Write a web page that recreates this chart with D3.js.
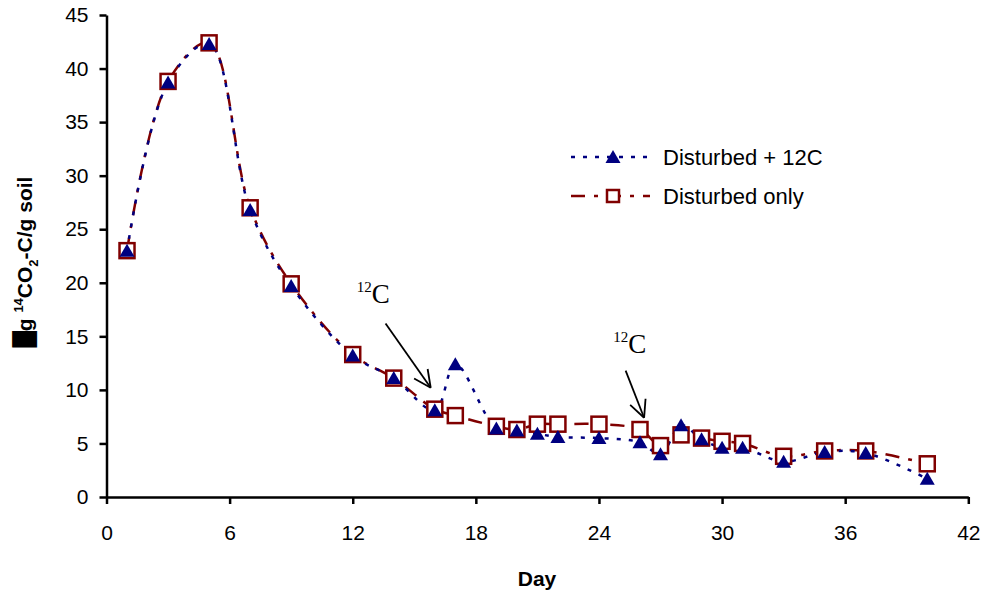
<!DOCTYPE html>
<html>
<head>
<meta charset="utf-8">
<script src="https://cdn.jsdelivr.net/npm/d3@7"></script>
<style>
  body { margin: 0; background: #fff; }
  svg { display: block; }
  text { font-family: Arial, "Liberation Sans", sans-serif; }
</style>
</head>
<body>
<div id="chart"></div>
<script>
const days = [1, 3, 5, 7, 9, 12, 14, 16, 17, 19, 20, 21, 22, 24, 26, 27, 28, 29, 30, 31, 33, 35, 37, 40];
const disturbed12C = [23.0, 38.7, 42.3, 26.8, 19.7, 13.2, 11.1, 8.1, 12.4, 6.4, 6.2, 5.9, 5.6, 5.5, 5.1, 4.0, 6.7, 5.4, 4.6, 4.6, 3.3, 4.2, 4.1, 1.7];
const disturbedOnly = [23.0, 38.8, 42.4, 27.0, 19.9, 13.3, 11.1, 8.2, 7.6, 6.6, 6.3, 6.8, 6.8, 6.8, 6.3, 4.8, 5.8, 5.5, 5.2, 5.0, 3.8, 4.3, 4.3, 3.1];
const xTicks = [0, 6, 12, 18, 24, 30, 36, 42];
const yTicks = [0, 5, 10, 15, 20, 25, 30, 35, 40, 45];
const seriesNames = ["Disturbed + 12C", "Disturbed only"];

// annotations: [text start day, text y, arrow start day, start y, tip day, tip y]
const arrows = [
  [12.2, 18.1, 13.6, 16.2, 15.8, 10.2],
  [24.7, 13.4, 25.3, 11.8, 26.2, 7.4]
];

const width = 985, height = 592;
const svg = d3.select("#chart").append("svg")
  .attr("width", width).attr("height", height);

const x = d3.scaleLinear().domain([0, 42]).range([106.5, 968.3]);
const y = d3.scaleLinear().domain([0, 45]).range([497, 15]);

const navy = "#000080", maroon = "#800000";

// axes
const yAxis = svg.append("g")
  .attr("transform", `translate(${x(0)},0)`)
  .call(d3.axisLeft(y).tickValues(yTicks).tickSize(7).tickPadding(11).tickSizeOuter(0));
const xAxis = svg.append("g")
  .attr("transform", `translate(0,${y(0)})`)
  .call(d3.axisBottom(x).tickValues(xTicks).tickSize(7).tickPadding(21).tickSizeOuter(0));
[xAxis, yAxis].forEach((g) => {
  g.select(".domain").attr("stroke", "#000").attr("stroke-width", 2.5);
  g.selectAll(".tick line").attr("stroke", "#000").attr("stroke-width", 2.5);
  g.selectAll("text").attr("font-size", 21).attr("fill", "#000")
    .style("font-family", "Arial, 'Liberation Sans', sans-serif");
});

// axis titles
svg.append("text")
  .attr("x", 537).attr("y", 586)
  .attr("text-anchor", "middle")
  .attr("font-size", 21).attr("font-weight", "bold")
  .text("Day");

const yTitle = svg.append("text")
  .attr("transform", "translate(32,262) rotate(-90)")
  .attr("text-anchor", "middle")
  .attr("font-size", 21).attr("font-weight", "bold");
yTitle.append("tspan").style("font-family", "'DejaVu Sans', sans-serif").text("\u2588");
yTitle.append("tspan").text("g ");
yTitle.append("tspan").attr("font-size", 13).attr("dy", -9).text("14");
yTitle.append("tspan").attr("dy", 9).text("CO");
yTitle.append("tspan").attr("font-size", 13).attr("dy", 6).text("2");
yTitle.append("tspan").attr("dy", -6).text("-C/g soil");

// lines (smoothed like the spreadsheet)
const rows = days.map((d, i) => ({ day: d, a: disturbed12C[i], b: disturbedOnly[i] }));
const smooth = d3.curveCatmullRom.alpha(0.5);
const lineA = d3.line().x((d) => x(d.day)).y((d) => y(d.a)).curve(smooth);
const lineB = d3.line().x((d) => x(d.day)).y((d) => y(d.b)).curve(smooth);

svg.append("path").datum(rows).attr("d", lineB)
  .attr("fill", "none").attr("stroke", maroon).attr("stroke-width", 2.5)
  .attr("stroke-dasharray", "14,9,4,9");
svg.append("path").datum(rows).attr("d", lineA)
  .attr("fill", "none").attr("stroke", navy).attr("stroke-width", 2.5)
  .attr("stroke-dasharray", "4,8");

const triPath = "M0,-7L7.5,6L-7.5,6Z";

// markers
svg.selectAll(".sq").data(rows).enter().append("rect")
  .attr("class", "sq")
  .attr("x", (d) => x(d.day) - 7.5).attr("y", (d) => y(d.b) - 7.5)
  .attr("width", 15).attr("height", 15)
  .attr("fill", "#fff").attr("stroke", maroon).attr("stroke-width", 2.5);
svg.selectAll(".tri").data(rows).enter().append("path")
  .attr("class", "tri")
  .attr("transform", (d) => `translate(${x(d.day)},${y(d.a)})`)
  .attr("d", triPath).attr("fill", navy);

// legend
const legend = svg.append("g");
const legendRows = [
  { name: seriesNames[0], color: navy, dash: "4,8", y: 157 },
  { name: seriesNames[1], color: maroon, dash: "14,9,4,9", y: 196 }
];
legendRows.forEach((r, i) => {
  legend.append("line")
    .attr("x1", 571).attr("x2", 650).attr("y1", r.y).attr("y2", r.y)
    .attr("stroke", r.color).attr("stroke-width", 2.5).attr("stroke-dasharray", r.dash);
  if (i === 0) {
    legend.append("path").attr("transform", `translate(613,${r.y})`)
      .attr("d", triPath).attr("fill", navy);
  } else {
    legend.append("rect").attr("x", 613 - 6).attr("y", r.y - 6)
      .attr("width", 12).attr("height", 12)
      .attr("fill", "#fff").attr("stroke", maroon).attr("stroke-width", 2.5);
  }
  legend.append("text")
    .attr("x", 663).attr("y", r.y + 8)
    .attr("font-size", 22).text(r.name);
});

// 12C annotations with arrows
arrows.forEach((a) => {
  const t = svg.append("text")
    .attr("x", x(a[0])).attr("y", y(a[1]))
    .style("font-family", "'Times New Roman', 'Liberation Serif', serif");
  t.append("tspan").attr("font-size", 15).attr("dy", -11).text("12");
  t.append("tspan").attr("font-size", 27).attr("dy", 11).text("C");

  const x1 = x(a[2]), y1 = y(a[3]), x2 = x(a[4]), y2 = y(a[5]);
  svg.append("line")
    .attr("x1", x1).attr("y1", y1).attr("x2", x2).attr("y2", y2)
    .attr("stroke", "#000").attr("stroke-width", 1.8);
  const ang = Math.atan2(y1 - y2, x1 - x2);
  [-0.45, 0.45].forEach((off) => {
    svg.append("line")
      .attr("x1", x2).attr("y1", y2)
      .attr("x2", x2 + 19 * Math.cos(ang + off))
      .attr("y2", y2 + 19 * Math.sin(ang + off))
      .attr("stroke", "#000").attr("stroke-width", 1.8);
  });
});
</script>
</body>
</html>
